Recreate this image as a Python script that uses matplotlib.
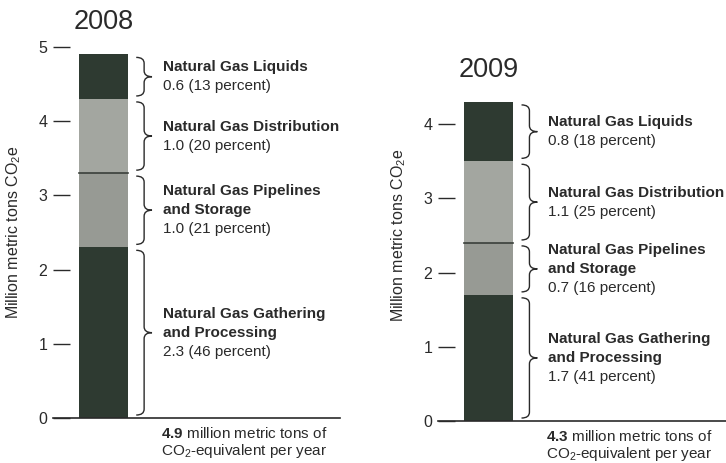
import matplotlib.pyplot as plt
from matplotlib.path import Path
from matplotlib.patches import PathPatch

plt.rcParams.update({
    'font.family': ['Liberation Sans', 'DejaVu Sans'],
    'font.size': 11,
    'mathtext.fontset': 'custom',
    'mathtext.rm': 'Liberation Sans',
    'mathtext.bf': 'Liberation Sans:bold',
})

# emissions by segment, million metric tons CO2e (bottom to top)
segments = ['Natural Gas Gathering\nand Processing',
            'Natural Gas Pipelines\nand Storage',
            'Natural Gas Distribution',
            'Natural Gas Liquids']
values_2008 = [2.3, 1.0, 1.0, 0.6]
percent_2008 = [46, 21, 20, 13]
values_2009 = [1.7, 0.7, 1.1, 0.8]
percent_2009 = [41, 16, 25, 18]
totals = {'2008': 4.9, '2009': 4.3}

dark = '#2e3a31'
colors = [dark, '#979a94', '#a3a6a0', dark]
ink = '#2a2a2a'


def brace(ax, y0, y1, x0=0.29, x1=0.345, r=0.08):
    xm = (x0 + x1) / 2
    yc = (y0 + y1) / 2
    verts = [(x0, y0), (xm, y0), (xm, y0 + r),
             (xm, yc - r),
             (xm, yc), (x1, yc),
             (xm, yc), (xm, yc + r),
             (xm, y1 - r),
             (xm, y1), (x0, y1)]
    codes = [Path.MOVETO, Path.CURVE3, Path.CURVE3,
             Path.LINETO,
             Path.CURVE3, Path.CURVE3,
             Path.CURVE3, Path.CURVE3,
             Path.LINETO,
             Path.CURVE3, Path.CURVE3]
    ax.add_patch(PathPatch(Path(verts, codes), fc='none', ec=ink, lw=1.0,
                           clip_on=False))


def panel(ax, year, values, pcts, ticks, title_y):
    ax.set_xlim(0, 1)
    ax.set_ylim(0, 5)
    for s in ('left', 'top', 'right'):
        ax.spines[s].set_visible(False)
    ax.spines['bottom'].set_color(ink)
    ax.spines['bottom'].set_linewidth(1.2)
    ax.set_xticks([])
    ax.set_yticks(ticks)
    ax.tick_params(axis='y', direction='in', length=12.5, width=1.0,
                   color=ink, pad=4, labelsize=11.5, labelcolor=ink)
    ax.set_ylabel('Million metric tons CO$_2$e', fontsize=11.5, color=ink)
    ax.yaxis.set_label_coords(-0.105, 0.5)

    step = 13.7  # line spacing of the labels, points
    bottom = 0
    for i, (v, p) in enumerate(zip(values, pcts)):
        ax.bar(0.09, v, width=0.17, bottom=bottom, align='edge',
               color=colors[i], lw=0)
        if i == 2:
            ax.plot([0.09, 0.26], [bottom, bottom], color='#3a3f3a', lw=1.2)
        brace(ax, bottom + 0.04, bottom + v - 0.04)
        yc = bottom + v / 2
        lines = segments[i].split('\n') + [f'{v:.1f} ({p} percent)']
        top = (len(lines) - 1) / 2 * step
        for k, line in enumerate(lines):
            bold = k < len(lines) - 1
            ax.annotate(line, (0.383, yc), xytext=(0, top - k * step),
                        textcoords='offset points', ha='left', va='center',
                        fontweight='bold' if bold else 'normal',
                        fontsize=11, color=ink)
        bottom += v

    ax.text(0.175, title_y, year, ha='center', va='center', fontsize=19.5,
            color=ink)
    ax.annotate(rf'$\mathbf{{{totals[year]}}}$ million metric tons of',
                (0.376, 0), xycoords='axes fraction', xytext=(0, -11.5),
                textcoords='offset points', ha='left', va='center',
                fontsize=11, color=ink)
    ax.annotate(r'CO$_2$-equivalent per year', (0.376, 0),
                xycoords='axes fraction', xytext=(0, -24),
                textcoords='offset points', ha='left', va='center',
                fontsize=11, color=ink, annotation_clip=False)


fig = plt.figure(figsize=(7.26, 4.63), dpi=100)
ax1 = fig.add_axes([53 / 726, 45 / 463, 287 / 726, 371 / 463])
ax2 = fig.add_axes([438 / 726, 42 / 463, 288 / 726, 371 / 463])

panel(ax1, '2008', values_2008, percent_2008, [0, 1, 2, 3, 4, 5], 5.34)
panel(ax2, '2009', values_2009, percent_2009, [0, 1, 2, 3, 4], 4.73)

fig.savefig('out.png', dpi=100)
